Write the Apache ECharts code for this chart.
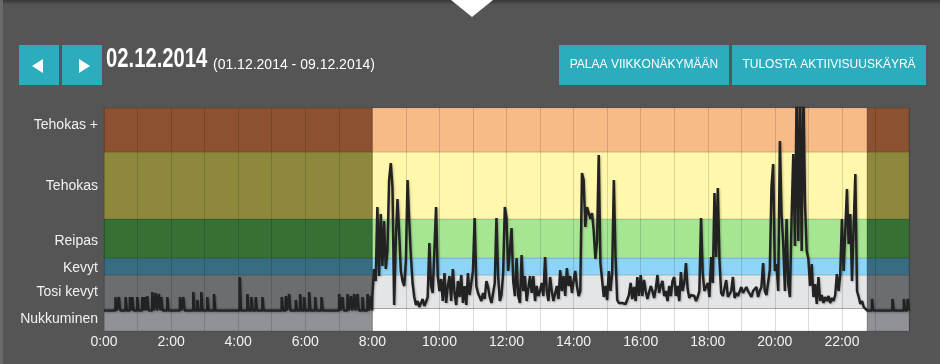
<!DOCTYPE html>
<html><head><meta charset="utf-8">
<script src="https://cdn.jsdelivr.net/npm/echarts@6/dist/echarts.min.js"></script>
<style>html,body{margin:0;padding:0;background:#555555;}#c{width:940px;height:364px;}</style>
</head><body><div id="c"></div>
<script>
// ---- DATA ----
const bandNames = ['Nukkuminen', 'Tosi kevyt', 'Kevyt', 'Reipas', 'Tehokas', 'Tehokas +'];
const bandLimits = [0, 22.5, 56, 73, 112, 179, 223];
const labelValues = [11.5, 38.5, 62.5, 90, 145, 205.5];
const dayColors = ['#ffffff', '#e4e5e7', '#8dd5f8', '#a6e693', '#fff7ab', '#f8ba86'];
const nightColors = ['#909196', '#6b6e71', '#386c80', '#367035', '#8e883c', '#8b5131'];
const periods = [[0, 8, 0], [8, 22.75, 1], [22.75, 24, 0]];
const xTickLabels = ['0:00', '2:00', '4:00', '6:00', '8:00', '10:00', '12:00', '14:00', '16:00', '18:00', '20:00', '22:00'];

const nightBaseline = 20.5;
const nightSpikeHours = [0.348,0.448,0.647,0.776,0.846,0.995,1.144,1.214,1.294,1.443,1.542,1.642,1.711,1.891,2.269,2.368,2.667,2.786,2.905,3.085,3.284,4.050,4.279,4.398,4.527,4.726,5.303,5.423,5.522,5.721,5.851,5.970,6.119,6.299,6.488,7.015,7.114,7.264,7.363,7.463,7.562,7.711,7.861,7.960];
const nightSpikeValues = [34,34,34,34,34,34,34,34,35,39,38,37,34,34,34,34,39,31,39,34,37,54,37,34,34,34,34,35,37,31,37,34,39,34,34,37,34,37,35,37,37,34,37,35];
const lateSpikeHours = [22.9, 23.51, 23.85, 23.96];
const lateSpikeValues = [32, 32, 32, 32];

const dayStartHour = 8;
const stepHours = 0.05; // 3 minutes
const dayEndHour = 22.75;
const dayValues = [
// 8
35,62,50,124,55,117,65,110,62,80,151,168,144,26,91,132,98,60,50,45,
// 9
70,151,110,74,48,34,26,30,24,28,32,25,29,34,88,45,38,40,124,55,
// 10
40,52,30,58,28,45,55,30,62,38,26,50,34,56,28,45,26,58,36,48,
// 11
60,113,45,38,40,30,38,32,50,44,34,28,26,48,113,55,30,36,58,124,
// 12
113,60,80,103,50,35,73,35,28,76,40,55,30,28,55,38,55,30,45,35,
// 13
40,48,35,74,40,30,54,40,30,28,45,32,61,40,55,35,63,45,55,38,
// 14
50,60,45,35,40,158,151,104,124,118,112,118,100,72,90,176,68,51,34,45,
// 15
31,60,40,58,151,74,31,28,30,28,30,27,29,36,48,32,44,30,54,35,
// 16
56,35,51,40,32,30,45,40,33,42,56,38,45,50,35,40,30,45,35,50,
// 17
54,35,45,30,59,40,48,68,42,33,36,38,35,30,34,40,113,58,40,38,
// 18
48,34,74,48,138,74,143,70,38,35,33,51,34,36,40,54,33,38,35,34,
// 19
44,38,36,44,40,38,34,40,42,44,34,40,44,68,40,36,38,61,144,167,
// 20
60,67,40,190,117,87,40,112,47,34,114,177,85,240,90,240,80,240,127,80,
// 21
72,45,67,34,47,27,54,30,36,28,34,30,35,28,33,30,36,57,40,56,
// 22
112,60,100,142,87,117,50,104,157,40,34,27,30,24,25
];

// ---- BUILD ----
function addSpikes(pts, hours, vals) {
  hours.forEach((h, i) => {
    pts.push([h - 0.008, nightBaseline], [h - 0.004, vals[i]], [h + 0.03, vals[i]], [h + 0.034, nightBaseline]);
  });
}
const lineData = [[0, nightBaseline]];
addSpikes(lineData, nightSpikeHours, nightSpikeValues);
dayValues.forEach((v, i) => lineData.push([dayStartHour + i * stepHours, v]));
lineData.push([dayEndHour, nightBaseline]);
addSpikes(lineData, lateSpikeHours, lateSpikeValues);
lineData.push([24, nightBaseline]);

const bandData = [];
periods.forEach(p => {
  for (let b = 0; b < bandNames.length; b++) {
    bandData.push([p[0], p[1], bandLimits[b], bandLimits[b + 1], b, p[2]]);
  }
});

const FONT = '"Liberation Sans", Arial, Helvetica, sans-serif';
const chart = echarts.init(document.getElementById('c'), null, { renderer: 'canvas' });

const btnColor = '#2badbe';
chart.setOption({
  backgroundColor: '#555555',
  animation: false,
  textStyle: { fontFamily: FONT },
  grid: { left: 104, right: 31, top: 108, bottom: 33 },
  xAxis: {
    type: 'value', min: 0, max: 24, interval: 1, z: 3,
    axisLine: { show: false }, axisTick: { show: false },
    splitLine: { show: true, lineStyle: { color: 'rgba(0,0,0,0.14)', width: 1 } },
    axisLabel: {
      color: '#f2f2f2', fontSize: 14, margin: 4, fontFamily: FONT,
      formatter: v => (v % 2 === 0 && v < 24) ? xTickLabels[v / 2] : ''
    }
  },
  yAxis: {
    type: 'value', min: 0, max: 223, z: 3,
    axisLine: { show: false }, axisTick: { show: false }, splitLine: { show: false },
    axisLabel: {
      customValues: labelValues,
      color: '#f2f2f2', fontSize: 14, margin: 6, fontFamily: FONT,
      formatter: v => {
        let best = -1, d = 1e9;
        labelValues.forEach((lv, i) => { if (Math.abs(lv - v) < d) { d = Math.abs(lv - v); best = i; } });
        return d < 0.5 ? bandNames[best] : '';
      }
    }
  },
  series: [
    {
      type: 'custom', z: 1, silent: true,
      encode: { x: [0, 1], y: [2, 3] },
      data: bandData,
      renderItem: (params, api) => {
        const p0 = api.coord([api.value(0), api.value(3)]);
        const p1 = api.coord([api.value(1), api.value(2)]);
        const colors = api.value(5) ? dayColors : nightColors;
        return {
          type: 'rect',
          shape: { x: p0[0], y: p0[1], width: p1[0] - p0[0], height: p1[1] - p0[1] },
          style: { fill: colors[api.value(4)], stroke: 'rgba(0,0,0,0.12)', lineWidth: 1 }
        };
      }
    },
    {
      type: 'line', z: 5, data: lineData, showSymbol: false, symbol: 'none', clip: true,
      lineStyle: { color: '#222222', width: 2.5, shadowColor: 'rgba(0,0,0,0.25)', shadowBlur: 2, shadowOffsetX: 1, shadowOffsetY: 1 }
    }
  ],
  graphic: [
    { type: 'rect', shape: { x: 0, y: 0, width: 940, height: 5 },
      style: { fill: new echarts.graphic.LinearGradient(0, 0, 0, 1, [{ offset: 0, color: 'rgba(0,0,0,0.35)' }, { offset: 1, color: 'rgba(0,0,0,0)' }]) } },
    { type: 'rect', shape: { x: 0, y: 0, width: 3, height: 364 }, style: { fill: '#6a6a6a' } },
    { type: 'polygon', shape: { points: [[451, 0], [493, 0], [472, 17]] }, style: { fill: '#ffffff' } },
    { type: 'rect', shape: { x: 19, y: 45, width: 40, height: 40 }, style: { fill: btnColor } },
    { type: 'rect', shape: { x: 62, y: 45, width: 40, height: 40 }, style: { fill: btnColor } },
    { type: 'polygon', shape: { points: [[43, 59], [43, 73], [32, 66]] }, style: { fill: '#ffffff' } },
    { type: 'polygon', shape: { points: [[79, 59], [79, 73], [90, 66]] }, style: { fill: '#ffffff' } },
    { type: 'text', x: 106, y: 60, scaleX: 0.75,
      style: { text: '02.12.2014', font: 'bold 27px ' + FONT, fill: '#ffffff', textAlign: 'left', textVerticalAlign: 'middle', align: 'left', verticalAlign: 'middle' } },
    { type: 'text', x: 213, y: 65,
      style: { text: '(01.12.2014 - 09.12.2014)', font: '14px ' + FONT, fill: '#ffffff', textAlign: 'left', textVerticalAlign: 'middle', align: 'left', verticalAlign: 'middle' } },
    { type: 'rect', shape: { x: 559, y: 45, width: 170, height: 40 }, style: { fill: btnColor } },
    { type: 'rect', shape: { x: 732, y: 45, width: 194, height: 40 }, style: { fill: btnColor } },
    { type: 'text', x: 644, y: 65,
      style: { text: 'PALAA VIIKKONÄKYMÄÄN', font: '12px ' + FONT, fill: '#ffffff', textAlign: 'center', textVerticalAlign: 'middle', align: 'center', verticalAlign: 'middle' } },
    { type: 'text', x: 829, y: 65,
      style: { text: 'TULOSTA AKTIIVISUUSKÄYRÄ', font: '12px ' + FONT, fill: '#ffffff', textAlign: 'center', textVerticalAlign: 'middle', align: 'center', verticalAlign: 'middle' } }
  ]
});
</script>
</body></html>
